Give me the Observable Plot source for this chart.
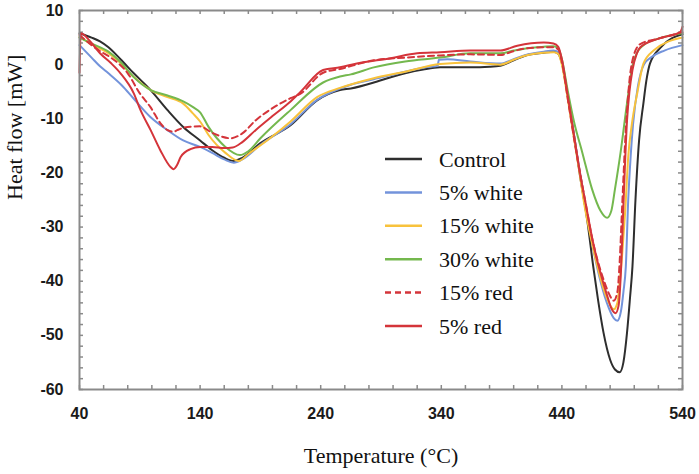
<!DOCTYPE html>
<html><head><meta charset="utf-8">
<script src="https://cdn.jsdelivr.net/npm/d3@7"></script>
<script src="https://cdn.jsdelivr.net/npm/@observablehq/plot@0.6"></script>
<style>
body{margin:0;background:#fff;}
#wrap{position:relative;width:699px;height:474px;}
</style></head><body><div id="wrap"></div>
<script>
// ---- data (Temperature °C, Heat flow mW) ----
const tControl = [40,50,57,64,74,85,99,113,126,140,150,160,168,175,190,215,237,256,265,284,294,310,325,339,364,380,389,400,410,425,433,437,440,445,450,455,461,466,470,474.5,480,484,488,491,494,496.5,498.5,501,504,507.6,510,513,522,540];
const vControl = [5.8,5.0,4.3,3.2,1.0,-1.6,-4.7,-8.4,-11.5,-14,-15.8,-17.2,-17.8,-17.2,-14.5,-11.2,-6.6,-4.7,-4.4,-3.3,-2.6,-1.6,-0.9,-0.5,-0.5,-0.4,-0.2,0.8,1.7,2.2,2.4,2.0,0.3,-6,-13,-20.5,-28.7,-37.3,-43.5,-49.5,-54.5,-56.3,-56.8,-55,-49.5,-43,-37.3,-25,-14,-7.1,-3,0.2,3.2,5.6];

const tWhite5 = [40,50,57,64,75,85,99,113,126,140,150,160,168,175,190,215,237,256,265,284,310,330,337,338,345,364,389,400,410,425,433,437,440,445,450,455,460,466,472,479,483,486,489,491,493,495,497,499,503,508,515,525,540];
const vWhite5 = [3.6,1.3,-0.3,-1.6,-3.8,-6.3,-9.7,-12.1,-14,-15.2,-16.3,-17.5,-18.1,-17.5,-14.8,-11,-6.5,-4.4,-3.7,-2.7,-1.3,-0.4,-0.2,0.9,1.0,0.6,0.2,1.0,1.8,2.4,2.6,2.3,0.5,-6,-13,-20,-26.5,-34,-40,-45,-46.8,-47.3,-45.5,-42,-37.3,-25,-17,-11,-4,0,1.5,2.6,3.6];

const tWhite15 = [40,50,64,74,85,99,113,126,134,140,147,161,172,180,198,215,237,256,284,310,339,364,389,400,410,425,433,437,440,445,450,455,458,464,469.5,474,478,483,486,488,490,492.5,495,498,502.7,507.6,516,540];
const vWhite15 = [5.1,3.8,2.1,0.3,-2.3,-4.7,-6,-7.2,-9,-10.5,-13,-16.3,-17.8,-16.5,-13.6,-10.5,-6,-4.3,-2.5,-1.3,0.1,0.4,0.0,0.9,1.7,2.2,2.3,2.0,0,-6.5,-13.5,-20.5,-25,-32,-37.3,-41,-43.5,-45.2,-44,-40,-35,-27,-17,-11,-5,0.2,2.6,5.0];

const tWhite30 = [40,50,64,74,85,99,113,122,126,134.5,140,147,161,173,180,190,215,242,256,265,284,310,339,364,389,400,410,425,433,437,440,445,450,457,465,472,477.5,481,484,488.6,494,499,503,507.6,520,540];
const vWhite30 = [5.0,3.9,2.4,0.5,-2.3,-4.7,-5.7,-6.4,-6.8,-7.9,-8.8,-11.5,-15.2,-16.7,-16,-13.6,-8.4,-3.3,-2.2,-1.8,-0.5,0.6,1.3,2.1,2.1,2.6,3.0,3.3,3.4,3.0,1.0,-5,-10.5,-16.3,-23,-27,-28.3,-27,-23,-16.3,-7.1,0.2,2.5,3.6,4.8,5.8];

const tRed15 = [40,50,57,66,80,90,99,107,113,118,121,129.5,140,150,158,165,175,186,201,215,223,242,256,284,310,339,364,389,400,410,425,433,437,440,445,450,455,460,465,470,475,479,483,486,488,490,493,496,500,505,520,540];
const vRed15 = [5.5,3.6,2.5,1.3,-1.6,-5.3,-7.9,-10.8,-12.1,-12.4,-12.1,-11.5,-11.4,-12.6,-13.3,-13.6,-12.7,-10.3,-7.9,-6.2,-5.4,-1.5,-0.8,0.8,1.3,1.7,1.9,1.8,2.5,3.0,3.2,3.2,2.8,0.5,-6.5,-13.5,-20,-26,-32,-36.5,-40,-42.3,-43.6,-42,-36,-26,-12,-3,2,3.8,4.8,6.0];

const tRed5 = [40,41,50,57,66,74,85,90.6,99,107,115.5,118,121,124,132,140,150,160,167,175,186,200,215,223,242,256,270,298,320,339,364,389,403,425,433,437,440,445,450,455,460,466,472,478,481,484.5,487,489,491,494,496,498.5,502,505,520,538,540];
const vRed5 = [-1.5,5.8,4.0,2.1,0.3,-1.6,-5.3,-8.4,-12.1,-15.8,-18.9,-19.3,-18.5,-17,-15.6,-15.2,-15.2,-15.4,-15.3,-14.3,-12.1,-9.5,-6.8,-5.1,-1.0,-0.5,0.2,1.2,2.1,2.3,2.6,2.6,3.5,4.1,3.9,3.3,1.0,-6,-13,-20,-26,-33,-38.5,-43,-45,-45.9,-44.5,-38,-26,-10.3,-5,-1,2,3.2,4.8,6.0,7.0];

const seriesNames = ["Control","5% white","15% white","30% white","15% red","5% red"];
const xTickLabels = [40,140,240,340,440,540];
const yTickLabels = [-60,-50,-40,-30,-20,-10,0,10];
const xMinorTicks = [40,60,80,100,120,140,160,180,200,220,240,260,280,300,320,340,360,380,400,420,440,460,480,500,520,540];
const yMinorTicks = [-60,-58,-56,-54,-52,-50,-48,-46,-44,-42,-40,-38,-36,-34,-32,-30,-28,-26,-24,-22,-20,-18,-16,-14,-12,-10,-8,-6,-4,-2,0,2,4,6,8,10];

// ---- styles ----
const seriesColors = ["#2e2e2e","#7393db","#f8c23c","#74b84e","#d4343a","#d4343a"];
const seriesDash = [null,null,null,null,"6,4",null];
const temps = [tControl,tWhite5,tWhite15,tWhite30,tRed15,tRed5];
const flows = [vControl,vWhite5,vWhite15,vWhite30,vRed15,vRed5];
const data = seriesNames.flatMap((name,i)=>temps[i].map((t,j)=>({series:name,t,v:flows[i][j]})));

const W=699,H=474,mt=10,mb=85,ml=79,mr=17;
const fw=W-ml-mr, fh=H-mt-mb, tl=4;
const tickStyle={stroke:"#8a8a8a",strokeWidth:1.5};
const sans="Liberation Sans, Arial, sans-serif", serif="Liberation Serif, Times New Roman, serif";

const lines = seriesNames.map((name,i)=>Plot.line(data.filter(d=>d.series===name),{
  x:"t",y:"v",stroke:seriesColors[i],strokeWidth:2,
  strokeDasharray:seriesDash[i]||undefined,curve:"monotone-x"}));

const chart = Plot.plot({
  width:W,height:H,marginTop:mt,marginBottom:mb,marginLeft:ml,marginRight:mr,
  x:{domain:[40,540]},y:{domain:[-60,10]},
  style:{background:"#fff"},
  marks:[
    Plot.tickX(xMinorTicks,{x:d=>d,insetTop:fh-tl,...tickStyle}),
    Plot.tickX(xMinorTicks,{x:d=>d,insetBottom:fh-tl,...tickStyle}),
    Plot.tickY(yMinorTicks,{y:d=>d,insetRight:fw-tl,...tickStyle}),
    Plot.tickY(yMinorTicks,{y:d=>d,insetLeft:fw-tl,...tickStyle}),
    ...lines,
    Plot.frame({stroke:"#8a8a8a",strokeWidth:2}),
    Plot.axisX({ticks:xTickLabels,tickSize:0,tickPadding:18,tickFormat:d=>String(d),fontSize:16,fontWeight:"bold",fontFamily:sans,fill:"#1a1a1a",label:null}),
    Plot.axisY({ticks:yTickLabels,tickSize:0,tickPadding:16,tickFormat:d=>String(d),fontSize:16,fontWeight:"bold",fontFamily:sans,fill:"#1a1a1a",label:null}),
    Plot.text(["Temperature (°C)"],{text:d=>d,frameAnchor:"bottom",dy:73,fontFamily:serif,fontSize:22,fill:"#111"}),
    Plot.text(["Heat flow [mW]"],{text:d=>d,frameAnchor:"left",dx:-65,rotate:-90,fontFamily:serif,fontSize:22,fill:"#111"})
  ]
});
const wrap=document.getElementById("wrap");
wrap.appendChild(chart);

// legend overlay
const leg=d3.select(wrap).append("svg").attr("width",W).attr("height",H)
  .style("position","absolute").style("left","0px").style("top","0px");
seriesNames.forEach((name,i)=>{
  const y=159+i*33.4;
  leg.append("line").attr("x1",385).attr("x2",422).attr("y1",y).attr("y2",y)
    .attr("stroke",seriesColors[i]).attr("stroke-width",2.5)
    .attr("stroke-dasharray",seriesDash[i]||null);
  leg.append("text").attr("x",439).attr("y",y).attr("dominant-baseline","central")
    .attr("font-family",serif).attr("font-size",22).attr("fill","#111").text(name);
});
</script></body></html>
